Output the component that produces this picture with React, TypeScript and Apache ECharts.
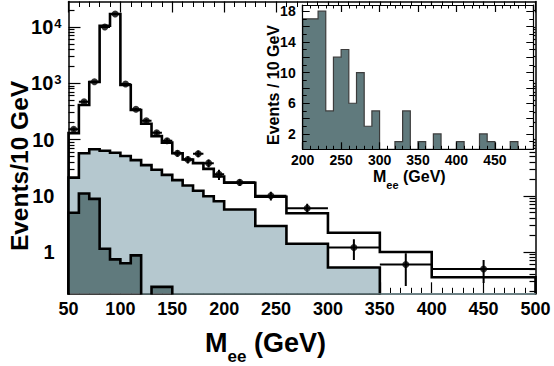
import React, { useEffect, useRef } from "react";
import * as echarts from "echarts";

const FONT = '"Liberation Sans", Arial, Helvetica, sans-serif';

// ---- Main histogram (Events / 10 GeV) ----
const binEdges = [50, 60, 70, 80, 90, 100, 110, 120, 130, 140, 150, 160, 170, 180, 190, 200, 230, 260, 300, 350, 400, 500];
const mcTotal = [130, 410, 1050, 10500, 17000, 930, 335, 190, 115, 88, 57, 44, 38, 30, 22, 17, 9.6, 4.9, 2.2, 1.0, 0.355];
const lightBkg = [21, 57, 67, 63, 58, 51, 43, 35, 29, 23.5, 19, 15.2, 12.3, 9.8, 8, 5.7, 2.9, 1.4, 0.53, 0, 0];
const darkBkg = [5.0, 11, 8.8, 1.14, 0.74, 0.63, 0.87, 0, 0.24, 0.24, 0, 0, 0, 0, 0, 0, 0, 0, 0, 0, 0];
const dataValues = [152, 470, 1060, 10000, 17000, 970, 345, 216, 132, 95, 57, 44, 56, 38, 24, 17.3, 10, 6, 1.2, 0.6, 0.5];
const dataErrors = [12, 22, 33, 100, 130, 31, 19, 15, 11, 10, 7.5, 6.6, 7.5, 6.2, 4.9, 2.4, 1.8, 1.2, 0.48, 0.35, 0.22];

const yMajorTicks = [1, 10, 100, 1000, 10000];
const yLabelBase = ["1", "10", "10", "10", "10"];
const yLabelExp = ["", "", "", "3", "4"];
const yMinorMultipliers = [2, 3, 4, 5, 6, 7, 8, 9];
const yDecades = [0.1, 1, 10, 100, 1000, 10000];
const Y_MIN = 0.1845;
const Y_MAX = 28400;

// ---- Inset histogram (Events / 10 GeV, linear) ----
const insetStart = 200;
const insetBinWidth = 10;
const insetCounts = [17, 17, 18, 5, 12, 13, 6, 10, 3, 5, 0, 0, 1, 5, 0, 1, 0, 2, 0, 0, 1, 0, 0, 2, 1, 0, 0, 1, 0, 0];
const insetYLabels = [2, 6, 10, 14, 18];

const FLOOR = 1e-3;

function stepPoints(edges: number[], vals: number[], floor: number) {
  const pts: number[][] = [[edges[0], floor]];
  vals.forEach((v, i) => {
    const y = v > 0 ? v : floor;
    pts.push([edges[i], y], [edges[i + 1], y]);
  });
  pts.push([edges[edges.length - 1], floor]);
  return pts;
}

const yMinorTicks: number[] = [];
yDecades.forEach((d) => yMinorMultipliers.forEach((m) => {
  const v = d * m;
  if (v > Y_MIN && v < Y_MAX) yMinorTicks.push(v);
}));

const insetEdges = [insetStart, ...insetCounts.map((_, i) => insetStart + (i + 1) * insetBinWidth)];

const black = "#000";

function logAxis(position: "left" | "right", ticks: number[], len: number, showLine: boolean, labels: boolean) {
  return {
    type: "log",
    logBase: 10,
    gridIndex: 0,
    position,
    min: Y_MIN,
    max: Y_MAX,
    axisLine: { show: showLine, lineStyle: { color: black, width: 1.5 } },
    axisTick: { show: true, inside: true, length: len, customValues: ticks, lineStyle: { color: black, width: 1.2 } },
    minorTick: { show: false },
    splitLine: { show: false },
    axisLabel: labels
      ? {
          show: true,
          customValues: yMajorTicks,
          margin: 7,
          formatter: (v: number) => {
            const i = yMajorTicks.findIndex((t) => Math.abs(Math.log10(t) - Math.log10(v)) < 1e-6);
            if (i < 0) return "";
            return yLabelExp[i] ? `{b|${yLabelBase[i]}}{s|${yLabelExp[i]}}` : `{bp|${yLabelBase[i]}}`;
          },
          rich: {
            b: { fontSize: 20, fontWeight: "bold", fontFamily: FONT, color: black, lineHeight: 20, verticalAlign: "bottom" },
            bp: { fontSize: 20, fontWeight: "bold", fontFamily: FONT, color: black, lineHeight: 20, verticalAlign: "bottom", padding: [0, 7, 0, 0] },
            s: { fontSize: 13, fontWeight: "bold", fontFamily: FONT, color: black, lineHeight: 13, verticalAlign: "top", padding: [0, 0, 14, 1] },
          },
        }
      : { show: false },
  };
}

function linAxisX(grid: number, position: "top" | "bottom", min: number, max: number, labels: boolean, fs: number, tickLen: number, z: number, hide500 = false) {
  return {
    type: "value",
    gridIndex: grid,
    position,
    min,
    max,
    interval: 50,
    z,
    axisLine: { show: true, onZero: false, lineStyle: { color: black, width: grid === 0 ? 1.5 : 1.2 } },
    axisTick: { show: true, inside: true, length: tickLen, lineStyle: { color: black, width: 1.2 } },
    minorTick: { show: true, splitNumber: 5, length: tickLen / 2, lineStyle: { color: black, width: 1 } },
    splitLine: { show: false },
    axisLabel: labels
      ? {
          show: true,
          fontSize: fs,
          fontWeight: "bold",
          fontFamily: FONT,
          color: black,
          margin: grid === 0 ? 7 : 4,
          formatter: (v: number) => (hide500 && v === 500 ? "" : String(v)),
        }
      : { show: false },
  };
}

function insetAxisY(position: "left" | "right", labels: boolean) {
  return {
    type: "value",
    gridIndex: 1,
    position,
    min: 0,
    max: 18.8,
    interval: 2,
    z: 12,
    axisLine: { show: true, lineStyle: { color: black, width: 1.2 } },
    axisTick: { show: true, inside: true, length: 7, lineStyle: { color: black, width: 1 } },
    minorTick: { show: true, splitNumber: 2, length: 4, lineStyle: { color: black, width: 1 } },
    splitLine: { show: false },
    axisLabel: labels
      ? {
          show: true,
          fontSize: 14,
          fontWeight: "bold",
          fontFamily: FONT,
          color: black,
          margin: 7,
          formatter: (v: number) => (insetYLabels.indexOf(v) >= 0 ? String(v) : ""),
        }
      : { show: false },
  };
}

export default function App() {
  const ref = useRef<HTMLDivElement>(null);
  useEffect(() => {
    if (!ref.current) return;
    const chart = echarts.init(ref.current, undefined, { renderer: "svg" });
    const histLine = { color: black, width: 2.6, join: "miter", cap: "butt" };
    const option: any = {
      animation: false,
      backgroundColor: "#fff",
      grid: [
        { left: 68.5, top: 1.5, width: 467, height: 291.8, containLabel: false },
        { left: 302.7, top: 5, width: 230.6, height: 144.3, show: true, backgroundColor: "#fff", borderWidth: 0, z: 10, containLabel: false },
      ],
      xAxis: [
        linAxisX(0, "bottom", 50, 500, true, 18, 11, 1),
        linAxisX(0, "top", 50, 500, false, 18, 11, 1),
        linAxisX(1, "bottom", 200, 500, true, 14, 7, 12, true),
        linAxisX(1, "top", 200, 500, false, 14, 7, 12),
      ],
      yAxis: [
        logAxis("left", yMajorTicks, 12, true, true),
        logAxis("left", yMinorTicks, 6, false, false),
        logAxis("right", yMajorTicks, 12, true, false),
        logAxis("right", yMinorTicks, 6, false, false),
        insetAxisY("left", true),
        insetAxisY("right", false),
      ],
      series: [
        {
          type: "line",
          name: "MC total",
          xAxisIndex: 0,
          yAxisIndex: 0,
          data: stepPoints(binEdges, mcTotal, FLOOR),
          symbol: "none",
          clip: true,
          lineStyle: histLine,
          z: 2,
        },
        {
          type: "line",
          name: "Background 1",
          xAxisIndex: 0,
          yAxisIndex: 0,
          data: stepPoints(binEdges, lightBkg, FLOOR),
          symbol: "none",
          clip: true,
          lineStyle: histLine,
          areaStyle: { color: "#b5c8cf", opacity: 1, origin: "start" },
          z: 3,
        },
        {
          type: "line",
          name: "Background 2",
          xAxisIndex: 0,
          yAxisIndex: 0,
          data: stepPoints(binEdges, darkBkg, FLOOR),
          symbol: "none",
          clip: true,
          lineStyle: histLine,
          areaStyle: { color: "#607a7d", opacity: 1, origin: "start" },
          z: 4,
        },
        {
          type: "custom",
          name: "Data errors",
          xAxisIndex: 0,
          yAxisIndex: 0,
          clip: true,
          z: 5,
          data: dataValues.map((v, i) => [binEdges[i], binEdges[i + 1], v, v - dataErrors[i], v + dataErrors[i]]),
          encode: { x: [0, 1], y: [2, 3, 4] },
          renderItem: (_p: any, api: any) => {
            const lo = api.value(0);
            const hi = api.value(1);
            const v = api.value(2);
            const a = api.coord([lo, v]);
            const b = api.coord([hi, v]);
            const c1 = api.coord([(lo + hi) / 2, api.value(3)]);
            const c2 = api.coord([(lo + hi) / 2, api.value(4)]);
            const st = { stroke: black, lineWidth: 2 };
            return {
              type: "group",
              children: [
                { type: "line", shape: { x1: a[0], y1: a[1], x2: b[0], y2: b[1] }, style: st },
                { type: "line", shape: { x1: c1[0], y1: c1[1], x2: c2[0], y2: c2[1] }, style: st },
              ],
            };
          },
        },
        {
          type: "scatter",
          name: "Data",
          xAxisIndex: 0,
          yAxisIndex: 0,
          symbol: "circle",
          symbolSize: 7,
          itemStyle: { color: black },
          data: dataValues.map((v, i) => [(binEdges[i] + binEdges[i + 1]) / 2, v]),
          z: 6,
        },
        {
          type: "line",
          name: "Inset",
          xAxisIndex: 2,
          yAxisIndex: 4,
          data: stepPoints(insetEdges, insetCounts, 0),
          symbol: "none",
          clip: true,
          lineStyle: { color: "#3c3c3c", width: 1.2, join: "miter" },
          areaStyle: { color: "#607a7d", opacity: 1, origin: "start" },
          z: 11,
        },
      ],
      graphic: [
        {
          type: "text",
          x: 19,
          y: 166,
          rotation: Math.PI / 2,
          style: { text: "Events/10 GeV", font: `bold 24.5px ${FONT}`, fill: black, align: "center", verticalAlign: "middle" },
        },
        {
          type: "text",
          x: 205,
          y: 338,
          style: {
            text: "{m|M}{e|ee}{m| (GeV)}",
            align: "left",
            verticalAlign: "top",
            rich: {
              m: { fontSize: 27, fontWeight: "bold", fontFamily: FONT, fill: black, lineHeight: 27, verticalAlign: "bottom", padding: [0, 0, 9, 0] },
              e: { fontSize: 17, fontWeight: "bold", fontFamily: FONT, fill: black, lineHeight: 17, verticalAlign: "bottom" },
            },
          },
        },
        {
          type: "text",
          x: 273,
          y: 85,
          z: 20,
          rotation: Math.PI / 2,
          style: { text: "Events / 10 GeV", font: `bold 16px ${FONT}`, fill: black, align: "center", verticalAlign: "middle" },
        },
        {
          type: "text",
          x: 373,
          y: 174,
          z: 20,
          style: {
            text: "{m|M}{e|ee}{m| (GeV)}",
            align: "left",
            verticalAlign: "top",
            rich: {
              m: { fontSize: 16, fontWeight: "bold", fontFamily: FONT, fill: black, lineHeight: 16, verticalAlign: "bottom", padding: [0, 0, 6, 0] },
              e: { fontSize: 11, fontWeight: "bold", fontFamily: FONT, fill: black, lineHeight: 11, verticalAlign: "bottom" },
            },
          },
        },
      ],
    };
    chart.setOption(option);
    return () => chart.dispose();
  }, []);
  return <div ref={ref} style={{ position: "absolute", left: 0, top: 0, width: 554, height: 366 }} />;
}
